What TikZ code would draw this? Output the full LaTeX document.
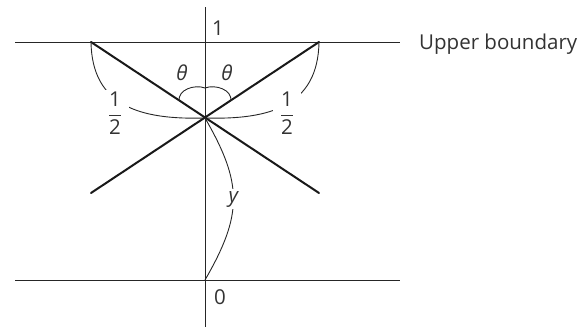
\documentclass[tikz,border=0pt]{standalone}
\usepackage{fontspec}
\usepackage{amsmath}
\setmainfont{Open Sans}
\usepackage{tikz}
\usetikzlibrary{calc}

\tikzset{
    thinline/.style={black!85, line width=0.9pt},
    thickline/.style={black!90, line width=2pt, line cap=round},
    lbl/.style={text=black!80, font=\fontsize{20.5}{24}\selectfont, inner sep=1pt},
    gaplbl/.style={lbl, fill=white, inner xsep=7pt, inner ysep=2pt}
}

\begin{document}
\begin{tikzpicture}[x=1pt, y=1pt]
    \useasboundingbox (0,0) rectangle (586,328);
    % Points
    \coordinate (P) at (205,210);
    \coordinate (O) at (205,48);
    \coordinate (UL) at (91,286);
    \coordinate (UR) at (319,286);
    \coordinate (LL) at (91,135);
    \coordinate (LR) at (319,135);
    \coordinate (AL) at (179,227);
    \coordinate (AR) at (231,227);
    \coordinate (C) at (205,240);
    % Axes and boundaries
    \draw[thinline] (205,1) -- (205,321);
    \draw[thinline] (15,286) -- (400,286) coordinate (ub);
    \draw[thinline] (15,48) -- (400,48);
    \node[lbl, anchor=west] (ublabel) at (418,284) {Upper boundary};
    \node[lbl] (one) at (218,300) {1};
    \node[lbl] (zero) at (220,31) {0};
    % Crossing lines
    \draw[thickline] (UL) -- (LR);
    \draw[thickline] (UR) -- (LL);
    % Angle marks
    \draw[thinline] (AL) to[out=95, in=160] (C);
    \draw[thinline] (AR) to[out=85, in=20] (C);
    \node[lbl] (thl) at (182,255) {\itshape θ};
    \node[lbl] (thr) at (227,255) {\itshape θ};
    % Braces
    \draw[thinline] (UL) .. controls (92,222) and (140,208) .. (P);
    \draw[thinline] (UR) .. controls (318,222) and (270,208) .. (P);
    \node[gaplbl] (halfl) at (115,215) {$\dfrac{\text{1}}{\text{2}}$};
    \node[gaplbl] (halfr) at (287,215) {$\dfrac{\text{1}}{\text{2}}$};
    \draw[thinline] (P) to[out=-60, in=60, looseness=1.2] node[lbl, fill=white, inner sep=2pt] (ylbl) {\itshape y} (O);
\end{tikzpicture}
\end{document}
